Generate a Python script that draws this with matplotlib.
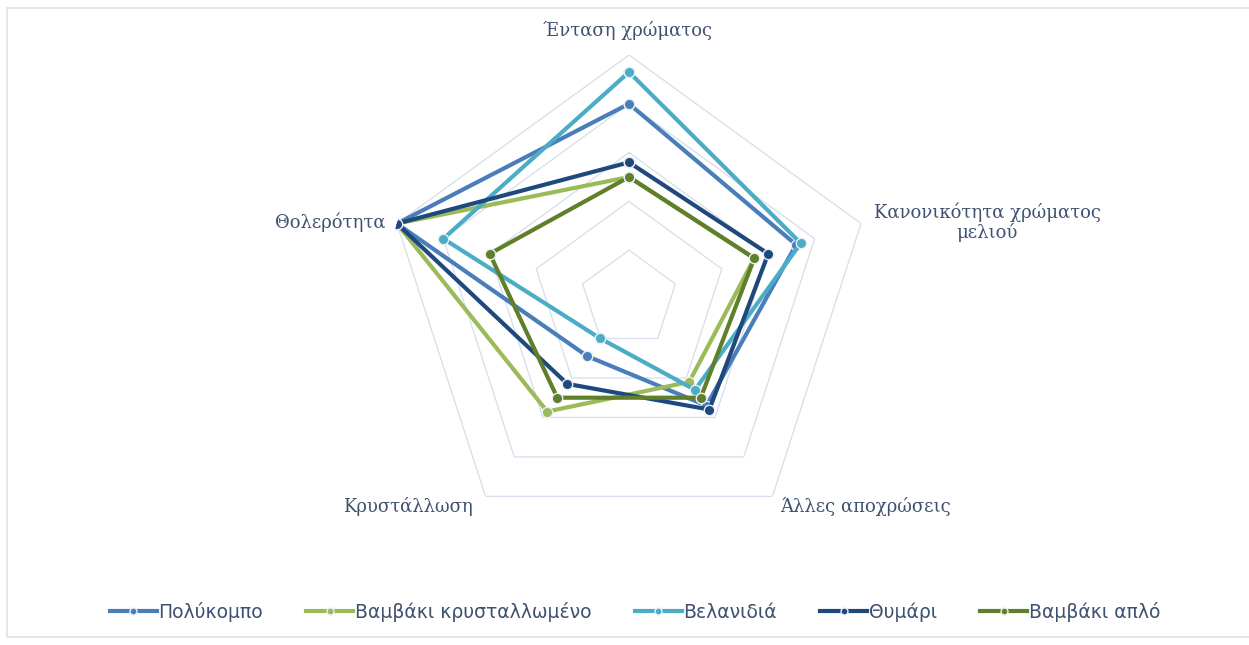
import numpy as np
import matplotlib
matplotlib.use("Agg")
import matplotlib.pyplot as plt
from matplotlib.patches import Rectangle

categories = ["Ένταση χρώματος", "Κανονικότητα χρώματος\nμελιού", "Άλλες αποχρώσεις",
              "Κρυστάλλωση", "Θολερότητα"]
series_names = ["Πολύκομπο", "Βαμβάκι κρυσταλλωμένο", "Βελανιδιά", "Θυμάρι", "Βαμβάκι απλό"]
polykompo = [4.0, 3.6, 2.7, 1.45, 5.0]
vamvaki_kryst = [2.5, 2.7, 2.1, 2.85, 5.0]
velanidia = [4.65, 3.7, 2.3, 1.0, 4.0]
thymari = [2.8, 3.0, 2.8, 2.15, 5.0]
vamvaki_aplo = [2.5, 2.7, 2.5, 2.5, 3.0]
series_values = [polykompo, vamvaki_kryst, velanidia, thymari, vamvaki_aplo]
colors = ["#4a7ebb", "#9bbb59", "#4bacc6", "#1f497d", "#5f7f2a"]
ring_levels = [1, 2, 3, 4, 5]

W, H = 1249, 645
fig = plt.figure(figsize=(W / 100, H / 100), dpi=100)
fig.patch.set_facecolor("white")

fig.patches.append(Rectangle((7 / W, 8 / H), 1.2, (637 - 8) / H, transform=fig.transFigure,
                             fill=False, edgecolor="#dbe3ec", linewidth=1.2))

cx, cy, R = 629, 299, 244
ax = fig.add_axes([(cx - R) / W, (H - cy - R) / H, 2 * R / W, 2 * R / H], projection="polar")
ax.set_theta_offset(np.pi / 2)
ax.set_theta_direction(-1)
ax.set_ylim(0, 5)
ax.set_xticks([])
ax.set_yticks([])
ax.grid(False)
ax.spines["polar"].set_visible(False)
ax.patch.set_alpha(0)

n = len(categories)
theta = np.linspace(0, 2 * np.pi, n, endpoint=False)
theta_c = np.append(theta, theta[0])

for lv in ring_levels:
    ax.plot(theta_c, [lv] * (n + 1), color="#d5deea", linewidth=0.9, zorder=1)

handles = []
for name, vals, col in zip(series_names, series_values, colors):
    v = np.append(vals, vals[0])
    ln, = ax.plot(theta_c, v, color=col, linewidth=3.0, marker="o", markersize=7.5,
                  markerfacecolor=col, markeredgecolor="#e8eef5", markeredgewidth=1.0,
                  zorder=3, solid_joinstyle="miter", label=name)
    handles.append(ln)

txtc = "#3e5170"
lab_font = dict(family="DejaVu Serif", fontsize=13, color=txtc)
fig.text(628 / W, 1 - 30 / H, categories[0], ha="center", va="center", **lab_font)
fig.text(987 / W, 1 - 222 / H, categories[1], ha="center", va="center", linespacing=1.05, **lab_font)
fig.text(865 / W, 1 - 507 / H, categories[2], ha="center", va="center", **lab_font)
fig.text(408 / W, 1 - 507 / H, categories[3], ha="center", va="center", **lab_font)
fig.text(386 / W, 1 - 222 / H, categories[4], ha="right", va="center", **lab_font)

leg = fig.legend(handles=handles, loc="center", bbox_to_anchor=(635 / W, 1 - 612 / H), ncol=5,
                 frameon=False, handlelength=2.5, handletextpad=0.1, columnspacing=2.3,
                 prop=dict(family="DejaVu Sans", size=13.5))
for t in leg.get_texts():
    t.set_color(txtc)
for h in leg.legend_handles:
    h.set_markersize(5)

fig.savefig("out.png", dpi=100, facecolor="white")
